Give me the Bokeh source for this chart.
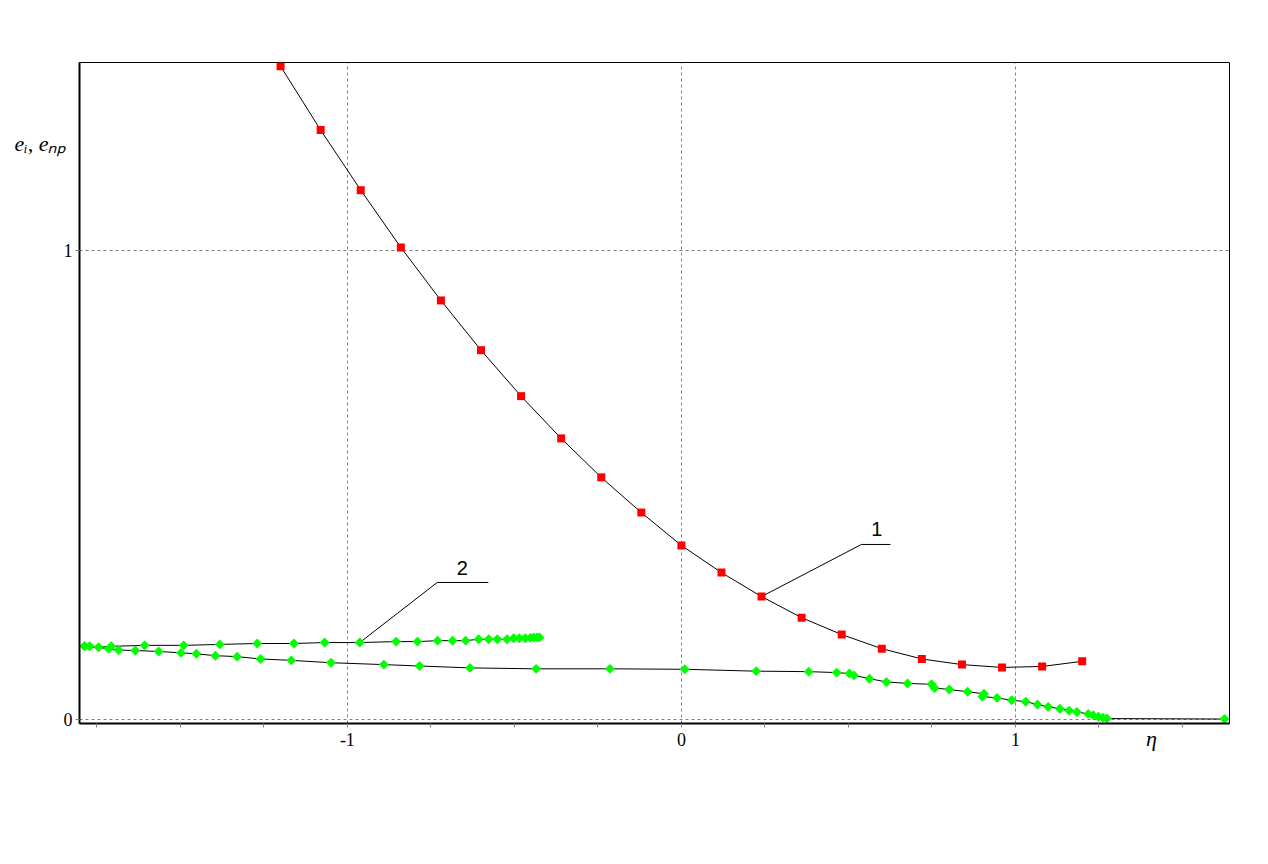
import numpy as np
from bokeh.plotting import figure
from bokeh.models import FixedTicker, Label, Range1d, LinearAxis
from bokeh.embed import file_html
from bokeh.resources import INLINE

# ---- data ----
# Curve 1 (red squares)
x1 = [-1.2, -1.08, -0.96, -0.84, -0.72, -0.6, -0.48, -0.36, -0.24, -0.12, 0.0,
      0.12, 0.24, 0.36, 0.48, 0.6, 0.72, 0.84, 0.96, 1.08, 1.2]
y1 = [1.392, 1.256, 1.128, 1.006, 0.893, 0.787, 0.689, 0.599, 0.516, 0.441, 0.371,
      0.313, 0.262, 0.217, 0.181, 0.151, 0.129, 0.117, 0.111, 0.113, 0.124]

# Curve 2 (green diamonds) - upper branch
x2u = [-1.787, -1.772, -1.745, -1.707, -1.607, -1.490, -1.382, -1.270, -1.160, -1.068,
       -0.963, -0.854, -0.790, -0.730, -0.685, -0.646, -0.607, -0.577, -0.551, -0.522,
       -0.502, -0.485, -0.467, -0.452, -0.442, -0.432, -0.425]
y2u = [0.156, 0.156, 0.154, 0.156, 0.158, 0.158, 0.160, 0.162, 0.162, 0.164,
       0.164, 0.166, 0.166, 0.168, 0.168, 0.168, 0.171, 0.171, 0.171, 0.171,
       0.173, 0.173, 0.173, 0.174, 0.175, 0.175, 0.175]
# Curve 2 - lower branch
x2l = [-1.787, -1.715, -1.685, -1.635, -1.565, -1.498, -1.452, -1.395, -1.330, -1.260,
       -1.168, -1.049, -0.891, -0.784, -0.633, -0.435, -0.214, 0.010, 0.224, 0.381,
       0.465, 0.503, 0.517, 0.563, 0.614, 0.677, 0.749, 0.758, 0.802, 0.857,
       0.906, 0.901, 0.945, 0.989, 1.031, 1.066, 1.098, 1.133, 1.161, 1.184,
       1.218, 1.233, 1.249, 1.262, 1.274, 1.626]
y2l = [0.156, 0.151, 0.148, 0.147, 0.145, 0.142, 0.140, 0.136, 0.134, 0.129,
       0.126, 0.121, 0.117, 0.114, 0.110, 0.108, 0.108, 0.107, 0.103, 0.102,
       0.100, 0.098, 0.094, 0.087, 0.080, 0.077, 0.075, 0.067, 0.064, 0.059,
       0.055, 0.049, 0.046, 0.041, 0.038, 0.032, 0.027, 0.023, 0.019, 0.016,
       0.012, 0.009, 0.006, 0.004, 0.002, 0.001]

x_ticks = [-1, 0, 1]
x_tick_labels = ["-1", "0", "1"]
y_ticks = [0, 1]
y_tick_labels = ["0", "1"]
x_minor = [-1.75, -1.5, -1.25, -0.75, -0.5, -0.25, 0.25, 0.5, 0.75, 1.25, 1.5]

x_title = "η"
x_title_pos = 1.407
y_title = "eᵢ, eₙₚ"
y_title_pos = 1.228

# annotation callouts: label, leader start (on curve), elbow, end, text position
lab1 = dict(text="1", pts_x=[0.24, 0.539, 0.626], pts_y=[0.262, 0.373, 0.373], tx=0.585, ty=0.390)
lab2 = dict(text="2", pts_x=[-0.963, -0.731, -0.578], pts_y=[0.164, 0.292, 0.292], tx=-0.656, ty=0.308)

# ---- figure ----
FL, FT, FW, FH = 79, 62, 1150, 661
p = figure(width=1250, height=840, frame_width=FW, frame_height=FH,
           x_range=Range1d(-1.802, 1.641), y_range=Range1d(-0.0085, 1.40),
           output_backend="svg", toolbar_location=None,
           min_border_left=FL, min_border_top=FT, min_border_right=21, min_border_bottom=117)
p.background_fill_color = "white"
p.border_fill_color = "white"
p.outline_line_color = "black"
p.outline_line_width = 1

serif = "Liberation Serif"

p.xaxis.ticker = FixedTicker(ticks=x_ticks, minor_ticks=x_minor)
p.yaxis.ticker = FixedTicker(ticks=y_ticks, minor_ticks=[])
p.xaxis.major_label_overrides = dict(zip(x_ticks, x_tick_labels))
p.yaxis.major_label_overrides = dict(zip(y_ticks, y_tick_labels))
for ax in (p.xaxis, p.yaxis):
    ax.axis_line_width = 2
    ax.axis_line_color = "black"
    ax.major_tick_line_color = "#808080"
    ax.minor_tick_line_color = "#808080"
    ax.major_tick_in = 0
    ax.minor_tick_in = 0
    ax.major_tick_out = 4
    ax.minor_tick_out = 4
    ax.major_label_text_font = serif
    ax.major_label_text_font_size = "18px"
    ax.major_label_text_color = "black"
p.xaxis.major_label_standoff = 5
p.yaxis.major_label_standoff = 3

# axis titles as extra tick-label-only axes (italic serif)
ytitle_ax = LinearAxis(ticker=FixedTicker(ticks=[y_title_pos], minor_ticks=[]),
                       major_label_overrides={y_title_pos: y_title})
xtitle_ax = LinearAxis(ticker=FixedTicker(ticks=[x_title_pos], minor_ticks=[]),
                       major_label_overrides={x_title_pos: x_title})
for ax in (ytitle_ax, xtitle_ax):
    ax.axis_line_color = None
    ax.major_tick_line_color = None
    ax.minor_tick_line_color = None
    ax.major_tick_out = 0
    ax.major_tick_in = 0
    ax.minor_tick_out = 0
    ax.minor_tick_in = 0
    ax.major_label_text_font = serif
    ax.major_label_text_font_style = "italic"
    ax.major_label_text_font_size = "22px"
    ax.major_label_text_color = "black"
ytitle_ax.major_label_standoff = -6
xtitle_ax.major_label_standoff = -23
p.add_layout(ytitle_ax, "left")
p.add_layout(xtitle_ax, "below")

p.xgrid.ticker = FixedTicker(ticks=x_ticks)
p.ygrid.ticker = FixedTicker(ticks=y_ticks)
for g in (p.xgrid, p.ygrid):
    g.grid_line_color = "#808080"
    g.grid_line_dash = "3 3"
    g.grid_line_width = 1

# lines
p.line(x1, y1, line_color="black", line_width=1)
p.line(x2l, y2l, line_color="black", line_width=1)
p.line(x2u, y2u, line_color="black", line_width=1)

# leader lines
for lab in (lab1, lab2):
    p.line(lab["pts_x"], lab["pts_y"], line_color="black", line_width=1)

# markers
p.scatter(x2l, y2l, marker="square", angle=np.pi / 4, size=7,
          fill_color="#00ff00", line_color=None)
p.scatter(x2u, y2u, marker="square", angle=np.pi / 4, size=7,
          fill_color="#00ff00", line_color=None)
p.scatter(x1, y1, marker="square", size=8, fill_color="#ff0000", line_color=None)

for lab in (lab1, lab2):
    p.add_layout(Label(x=lab["tx"], y=lab["ty"], text=lab["text"],
                       text_font="Liberation Sans", text_font_size="20px",
                       text_align="center", text_baseline="bottom", text_color="black"))

open("out.html", "w").write(file_html(p, INLINE))
